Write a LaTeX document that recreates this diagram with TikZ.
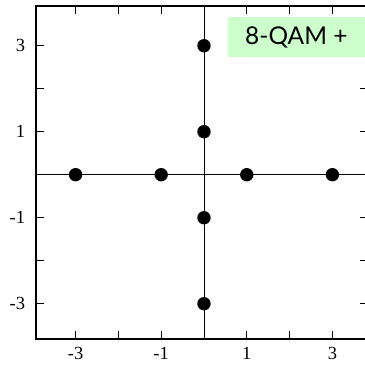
\documentclass[tikz,border=0pt]{standalone}
\usepackage{fontspec}
\setmainfont{Liberation Serif}
\newfontfamily\labelfont{Lato}
\usetikzlibrary{positioning}
\definecolor{legendgreen}{HTML}{CCFFCC}

\begin{document}
\begin{tikzpicture}[x=42.8pt, y=43pt,
            frameline/.style={draw=black, line width=1.7pt},
            axisline/.style={draw=black, line width=0.9pt},
            tickline/.style={draw=black, line width=0.9pt},
            point/.style={circle, fill=black, minimum size=13.4pt, inner sep=0pt, outer sep=0pt},
            ticklabel/.style={font=\fontsize{18.5}{18.5}\selectfont, inner sep=0pt},
            legendlabel/.style={font=\labelfont\fontsize{24.5}{24.5}\selectfont, inner sep=0pt, anchor=west}
        ]
            % ROZMĚRY RÁMU
            \def\xL{-3.925}
            \def\xR{3.83}
            \def\yB{-3.82}
            \def\yT{3.923}
            \def\tl{0.187}

            \useasboundingbox (-4.766,-4.565) rectangle (3.762,4.063);

            % RÁM A ZNAČKY
            \coordinate (sw) at (\xL,\yB);
            \coordinate (ne) at (\xR,\yT);
            \foreach \t in {-3,-2,-1,1,2,3} {
                \draw[tickline] (\t,\yB) -- ++(0,\tl);
                \draw[tickline] (\t,\yT) -- ++(0,-\tl);
                \draw[tickline] (\xL,\t) -- ++(\tl,0);
                \draw[tickline] (\xR,\t) -- ++(-\tl,0);
            }
            \draw[frameline] (sw) rectangle (ne);

            % POPISKY OS
            \foreach \t [count=\i] in {-3,-1,1,3} {
                \node[ticklabel, anchor=north] (xl\i) at (\t,\yB-0.19) {\t};
                \node[ticklabel, anchor=east] (yl\i) at (\xL-0.25,\t) {\t};
            }

            % LEGENDA
            \fill[legendgreen] (0.56,2.737) rectangle (\xR,3.667);
            \node[legendlabel] (legend) at (0.958,3.2) {8-QAM +};

            % OSY
            \draw[axisline] (sw |- 0,0) -- (ne |- 0,0);
            \draw[axisline] (sw -| 0,0) -- (ne -| 0,0);

            % BODY
            \foreach \p [count=\i] in {-3,-1,1,3} {
                \node[point] (h\i) at (\p,0) {};
                \node[point] (v\i) at (0,\p) {};
            }
        \end{tikzpicture}
\end{document}
